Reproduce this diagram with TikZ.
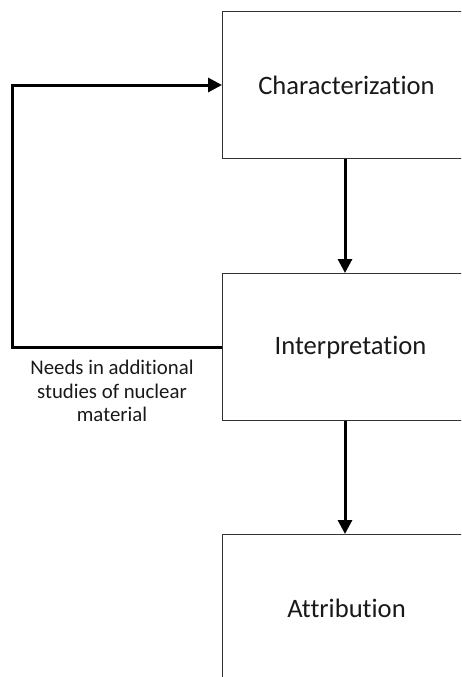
\documentclass[tikz,border=0pt]{standalone}
\usepackage{fontspec}
\setmainfont{Carlito}[Ligatures={NoCommon,NoContextual}]
\usetikzlibrary{arrows.meta}
\begin{document}
\begin{tikzpicture}[x=1pt,y=-1pt,
  stagebox/.style={draw=black!80,line width=1pt,minimum width=248pt,minimum height=147pt,
    inner sep=0pt,anchor=north west,font=\fontsize{26.6}{30}\selectfont,text=black!90},
  flow/.style={line width=3pt,-{Triangle[length=14pt,width=14pt]}},
  note/.style={align=center,font=\fontsize{20.8}{23.5}\selectfont,text=black!90}]
\useasboundingbox (0,0) rectangle (461,677);
\clip (0,0) rectangle (461,677);
\node[stagebox] (char) at (222,11) {Characterization};
\node[stagebox] (interp) at (222,273) {\hspace{8pt}Interpretation};
\node[stagebox] (attr) at (222,534) {Attribution};
\coordinate (corner) at (12,0);
\draw[flow] (char.south -| 345,0) -- (interp.north -| 345,0);
\draw[flow] (interp.south -| 345,0) -- (attr.north -| 345,0);
\draw[flow,line join=miter] (interp.west) -| (corner |- interp.west) |- (char.west);
\node[note] (lbl) at (112,391) {Needs in additional\\studies of nuclear\\material};
\end{tikzpicture}
\end{document}
